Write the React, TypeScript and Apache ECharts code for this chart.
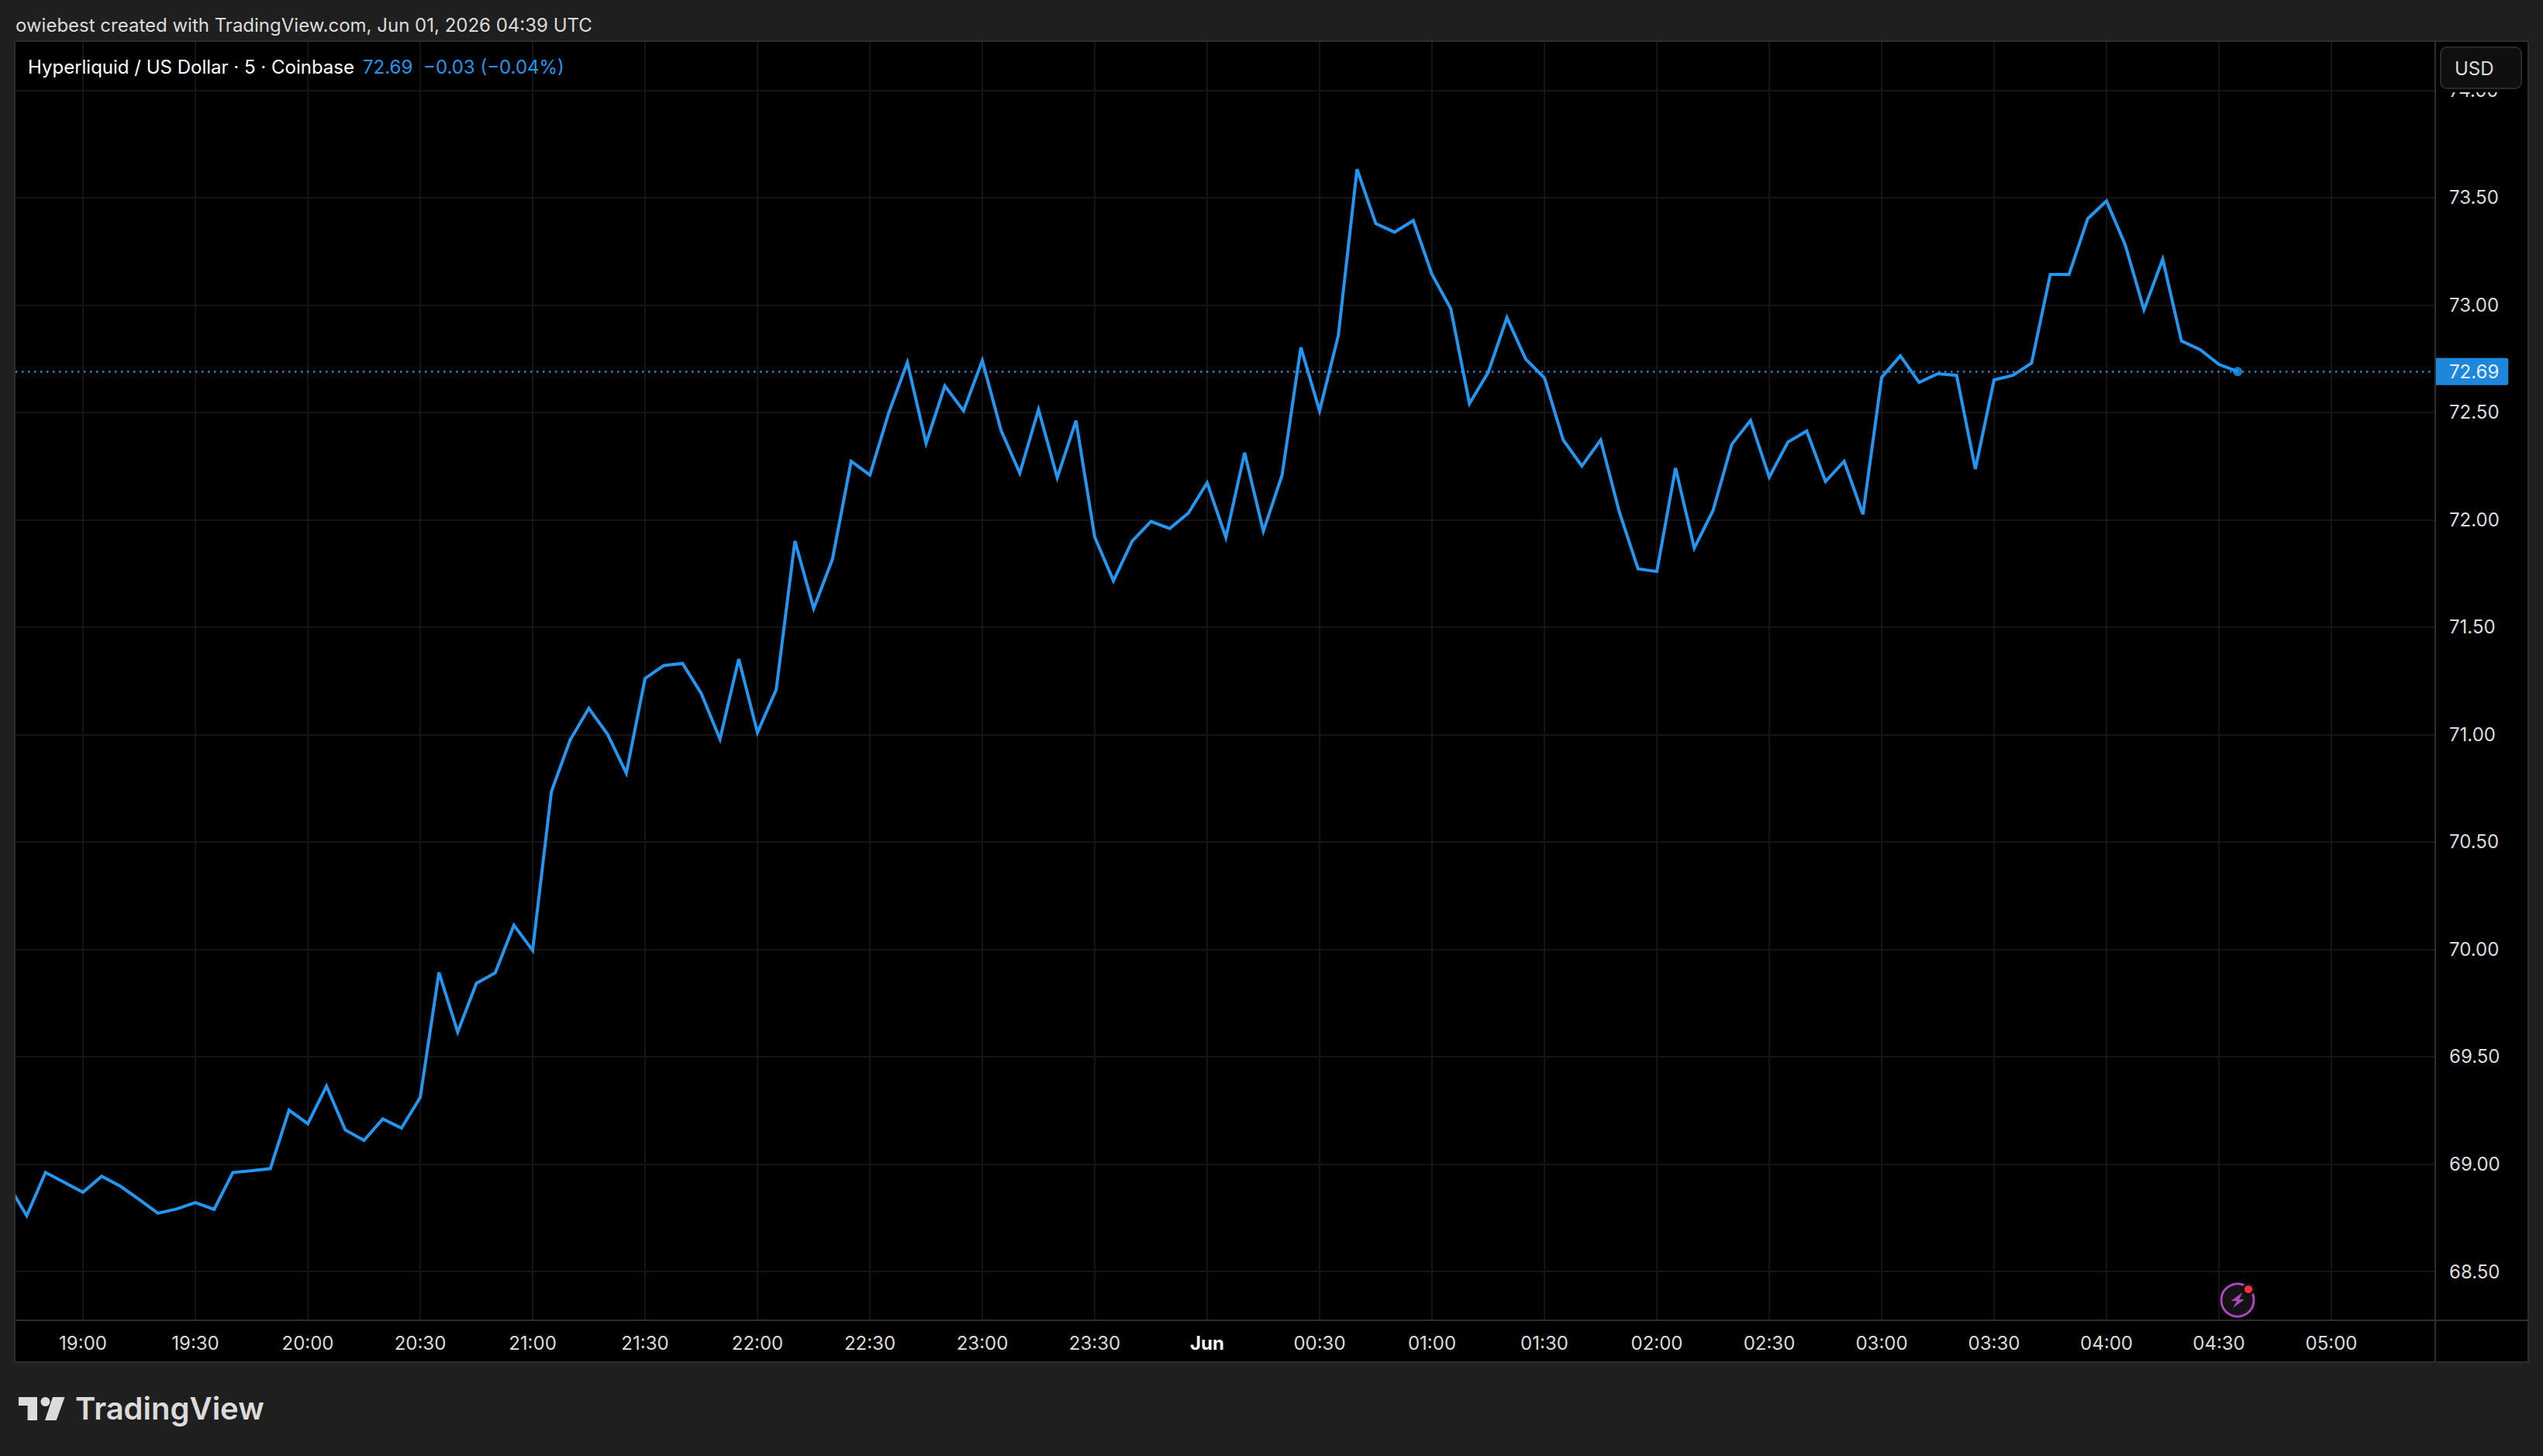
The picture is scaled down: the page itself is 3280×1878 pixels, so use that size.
import React, { useEffect, useRef } from "react";
import * as echarts from "echarts";

const FONT = "Inter, 'Noto Sans', sans-serif";
const LINE = "#2196f3";
const TEXT = "#dbdbdb";
const BORDER = "#2e2e2e";
const GRIDLINE = "#141414";

const headerText = "owiebest created with TradingView.com, Jun 01, 2026 04:39 UTC";
const titleText = "Hyperliquid / US Dollar · 5 · Coinbase";
const lastPriceText = "72.69";
const changeText = "−0.03 (−0.04%)";
const unitText = "USD";
const brandText = "TradingView";

// minutes after 2026-05-31 00:00 UTC of the first 5-minute bar (18:40)
const startMinute = 1120;
const stepMinutes = 5;

const closes = [
  68.904, 68.76, 68.961, 68.915, 68.869, 68.943, 68.897, 68.835, 68.771, 68.791, 68.821, 68.789,
  68.961, 68.969, 68.979, 69.251, 69.188, 69.363, 69.159, 69.11, 69.21, 69.168, 69.31, 69.892,
  69.615, 69.842, 69.89, 70.112, 69.995, 70.734, 70.974, 71.122, 71.001, 70.82, 71.261, 71.321,
  71.331, 71.191, 70.978, 71.352, 71.009, 71.209, 71.901, 71.587, 71.816, 72.272, 72.208, 72.496,
  72.732, 72.356, 72.623, 72.507, 72.741, 72.416, 72.217, 72.513, 72.196, 72.461, 71.919, 71.716,
  71.901, 71.992, 71.959, 72.031, 72.172, 71.917, 72.312, 71.947, 72.208, 72.802, 72.507, 72.857,
  73.632, 73.379, 73.339, 73.393, 73.142, 72.983, 72.541, 72.686, 72.941, 72.748, 72.661, 72.372,
  72.25, 72.371, 72.036, 71.771, 71.759, 72.241, 71.868, 72.043, 72.351, 72.462, 72.198, 72.362,
  72.413, 72.178, 72.272, 72.025, 72.663, 72.763, 72.639, 72.68, 72.672, 72.236, 72.651, 72.672,
  72.729, 73.142, 73.142, 73.402, 73.484, 73.279, 72.978, 73.213, 72.832, 72.792, 72.723, 72.69,
];

const lastPrice = 72.69;

const timeTicks = [
  1140, 1170, 1200, 1230, 1260, 1290, 1320, 1350, 1380, 1410, 1440, 1470, 1500, 1530, 1560, 1590,
  1620, 1650, 1680, 1710, 1740,
];
const timeLabels = [
  "19:00", "19:30", "20:00", "20:30", "21:00", "21:30", "22:00", "22:30", "23:00", "23:30", "Jun",
  "00:30", "01:00", "01:30", "02:00", "02:30", "03:00", "03:30", "04:00", "04:30", "05:00",
];
const priceTicks = [68.5, 69, 69.5, 70, 70.5, 71, 71.5, 72, 72.5, 73, 73.5, 74];

const W = 3280;
const H = 1878;
const plot = { left: 20, top: 54, right: 3140, bottom: 1703, outerRight: 3261, outerBottom: 1757 };
const pxPerMinute = 145 / 30;
const tick1900X = 107;
const pxPerUnit = 277.04;
const y7350 = 254.8;
const xMin = 1140 - (tick1900X - plot.left) / pxPerMinute;
const xMax = 1140 + (plot.right - tick1900X) / pxPerMinute;
const yMax = 73.5 + (y7350 - plot.top) / pxPerUnit;
const yMin = 73.5 - (plot.bottom - y7350) / pxPerUnit;

const points = closes.map((v, i) => [startMinute + i * stepMinutes, v]);

function text(x: number, y: number, t: string, fontSize: number, fill: string, extra: any = {}) {
  return {
    type: "text",
    x,
    y,
    z: 60,
    style: { text: t, fontSize, fontFamily: FONT, fill, verticalAlign: "middle", ...extra },
  };
}

function hline(x1: number, x2: number, y: number) {
  return { type: "line", z: 50, shape: { x1, y1: y, x2, y2: y }, style: { stroke: BORDER, lineWidth: 2 } };
}
function vline(x: number, y1: number, y2: number) {
  return { type: "line", z: 50, shape: { x1: x, y1, x2: x, y2 }, style: { stroke: BORDER, lineWidth: 2 } };
}

export default function App() {
  const ref = useRef<HTMLDivElement>(null);
  useEffect(() => {
    document.body.style.margin = "0";
    const chart = echarts.init(ref.current!, undefined, { renderer: "svg" });
    chart.setOption({
      animation: false,
      backgroundColor: "#1f1f1f",
      grid: {
        left: plot.left,
        top: plot.top,
        width: plot.right - plot.left,
        height: plot.bottom - plot.top,
        containLabel: false,
      },
      xAxis: {
        type: "value",
        min: xMin,
        max: xMax,
        axisLine: { show: false },
        axisTick: { show: false, customValues: timeTicks },
        splitLine: { show: true, lineStyle: { color: GRIDLINE, width: 2 } },
        axisLabel: {
          customValues: timeTicks,
          margin: 17,
          fontSize: 24,
          fontFamily: FONT,
          color: TEXT,
          hideOverlap: false,
          showMinLabel: true,
          showMaxLabel: true,
          formatter: (v: number) => {
            const l = timeLabels[timeTicks.indexOf(v)] ?? "";
            return l === "Jun" ? "{b|Jun}" : l;
          },
          rich: { b: { fontSize: 24, fontWeight: "bold", fontFamily: FONT, color: "#f5f5f5" } },
        },
      },
      yAxis: {
        type: "value",
        position: "right",
        min: yMin,
        max: yMax,
        axisLine: { show: false },
        axisTick: { show: false, customValues: priceTicks },
        splitLine: { show: true, lineStyle: { color: GRIDLINE, width: 2 } },
        axisLabel: {
          customValues: priceTicks,
          margin: 19,
          fontSize: 24,
          fontFamily: FONT,
          color: TEXT,
          formatter: (v: number) => v.toFixed(2),
        },
      },
      series: [
        {
          type: "line",
          data: points,
          showSymbol: false,
          symbol: "none",
          clip: true,
          lineStyle: { color: LINE, width: 4, join: "miter" },
          markLine: {
            silent: true,
            symbol: "none",
            data: [{ yAxis: lastPrice }],
            lineStyle: { color: LINE, type: [2.5, 5.5], width: 2.5, opacity: 0.9 },
            label: {
              show: true,
              position: "end",
              distance: 1,
              formatter: () => lastPriceText,
              fontSize: 24,
              fontFamily: FONT,
              color: "#ffffff",
              backgroundColor: LINE,
              padding: [6, 12, 5, 18],
              borderRadius: [0, 3, 3, 0],
            },
          },
        },
        {
          type: "scatter",
          data: [points[points.length - 1]],
          symbol: "circle",
          symbolSize: 12,
          itemStyle: { color: LINE },
          z: 5,
        },
      ],
      graphic: [
        // black pane behind the grid
        { type: "rect", z: -5, shape: { x: plot.left, y: plot.top, width: plot.outerRight - plot.left, height: plot.outerBottom - plot.top }, style: { fill: "#000000" } },
        // pane frame
        hline(plot.left, plot.outerRight, plot.top - 1),
        hline(plot.left, plot.outerRight, plot.bottom),
        hline(plot.left, plot.outerRight, plot.outerBottom),
        vline(plot.left - 1, plot.top, plot.outerBottom),
        vline(plot.right + 1, plot.top, plot.outerBottom),
        vline(plot.outerRight, plot.top, plot.outerBottom),
        // cover over the top of the price axis and the unit button
        { type: "rect", z: 52, shape: { x: plot.right + 2, y: plot.top, width: plot.outerRight - plot.right - 3, height: 65 }, style: { fill: "#000000" } },
        { type: "rect", z: 53, shape: { x: 3148, y: 61, width: 104, height: 53, r: 8 }, style: { fill: "#0f0f0f", stroke: "#2a2a2a", lineWidth: 2 } },
        text(3166, 88, unitText, 24, TEXT),
        // top texts
        text(20, 32, headerText, 24, TEXT),
        text(36, 86, titleText, 24, "#ffffff"),
        text(468, 86, lastPriceText, 24, LINE),
        text(546, 86, changeText, 24, LINE),
        // bolt badge
        { type: "circle", z: 55, shape: { cx: 2886, cy: 1677, r: 21 }, style: { fill: "#131313", stroke: "#ab47bc", lineWidth: 3 } },
        { type: "polygon", z: 56, shape: { points: [[2892.5, 1667], [2877.5, 1678], [2885, 1678], [2880, 1687], [2895, 1676], [2888, 1676]] }, style: { fill: "#ab47bc" } },
        { type: "circle", z: 57, shape: { cx: 2900, cy: 1663, r: 8 }, style: { fill: "#131313" } },
        { type: "circle", z: 58, shape: { cx: 2900, cy: 1663, r: 5 }, style: { fill: "#f7313f" } },
        // brand
        { type: "polygon", z: 56, shape: { points: [[24, 1802], [48, 1802], [48, 1832], [35.6, 1832], [35.6, 1813], [24, 1813]] }, style: { fill: "#dbdbdb" } },
        { type: "circle", z: 56, shape: { cx: 58.5, cy: 1808, r: 6 }, style: { fill: "#dbdbdb" } },
        { type: "polygon", z: 56, shape: { points: [[68, 1802], [83.5, 1802], [72.7, 1832], [58, 1832]] }, style: { fill: "#dbdbdb" } },
        text(97, 1816, brandText, 40, "#dbdbdb", { fontWeight: 600 }),
      ],
    });
    return () => chart.dispose();
  }, []);
  return <div ref={ref} style={{ width: W, height: H }} />;
}
